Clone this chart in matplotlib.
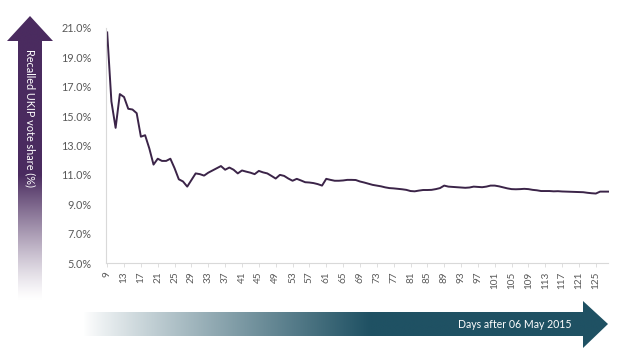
import matplotlib
matplotlib.use("Agg")
from matplotlib import pyplot as plt
from matplotlib.patches import Polygon
import numpy as np

plt.rcParams['font.family'] = ['Lato', 'DejaVu Sans']

# days after 06 May 2015
days = list(range(9, 129))
# recalled UKIP vote share (%)
share = [
    20.7, 16.0, 14.2, 16.5, 16.3, 15.5, 15.45, 15.2, 13.6, 13.7,   # 9-18
    12.8, 11.7, 12.1, 11.95, 11.95, 12.1, 11.45, 10.7, 10.55, 10.2,  # 19-28
    10.65, 11.1, 11.05, 10.95, 11.15, 11.3, 11.45, 11.6, 11.35, 11.5,  # 29-38
    11.35, 11.1, 11.3, 11.22, 11.15, 11.05, 11.27, 11.17, 11.1, 10.93,  # 39-48
    10.75, 11.0, 10.93, 10.75, 10.6, 10.73, 10.62, 10.5, 10.48, 10.44,  # 49-58
    10.37, 10.27, 10.73, 10.66, 10.6, 10.6, 10.62, 10.66, 10.66, 10.65,  # 59-68
    10.55, 10.48, 10.4, 10.32, 10.27, 10.22, 10.15, 10.1, 10.08, 10.05,  # 69-78
    10.02, 9.98, 9.9, 9.88, 9.93, 9.97, 9.97, 9.98, 10.03, 10.1,  # 79-88
    10.27, 10.2, 10.18, 10.16, 10.14, 10.12, 10.14, 10.2, 10.18, 10.16,  # 89-98
    10.2, 10.27, 10.27, 10.22, 10.15, 10.08, 10.03, 10.02, 10.03, 10.05,  # 99-108
    10.03, 9.98, 9.95, 9.9, 9.9, 9.9, 9.88, 9.89, 9.87, 9.86,  # 109-118
    9.85, 9.84, 9.83, 9.82, 9.78, 9.75, 9.73, 9.86, 9.86, 9.86,  # 119-128
]
y_ticks = [5, 7, 9, 11, 13, 15, 17, 19, 21]
x_ticks = list(range(9, 126, 4))

W, H = 624, 351
fig = plt.figure(figsize=(W / 100, H / 100), dpi=100)

# background layer in pixel coordinates for the two gradient arrows
bg = fig.add_axes([0, 0, 1, 1], zorder=0)
bg.set_xlim(0, W)
bg.set_ylim(H, 0)
bg.axis('off')

def gradient_arrow(verts, extent, color, ramp, horizontal):
  # ramp: array of alpha values along the gradient direction
  rgb = np.array(matplotlib.colors.to_rgb(color))
  white = np.ones(3)
  cols = white[None, :] * (1 - ramp[:, None]) + rgb[None, :] * ramp[:, None]
  if horizontal:
    img = cols[None, :, :]
  else:
    img = cols[:, None, :]
  im = bg.imshow(img, extent=extent, aspect='auto', interpolation='bilinear')
  poly = Polygon(verts, closed=True, facecolor='none', edgecolor='none')
  bg.add_patch(poly)
  im.set_clip_path(poly)

# vertical purple arrow (top dark, fading downward)
yy = np.linspace(15, 300, 300)
ramp_v = np.clip((300 - yy) / (300 - 175), 0, 1) ** 1.2
gradient_arrow([(18, 300), (18, 41), (7, 41), (30, 16), (53, 41), (42, 41), (42, 300)],
               (5, 55, 300, 15), '#4a2b5f', ramp_v, horizontal=False)

# horizontal teal arrow (left white, dark to the right)
xx = np.linspace(83, 610, 400)
ramp_h = np.clip((xx - 83) / (370 - 83), 0, 1) ** 0.9
gradient_arrow([(83, 312), (583, 312), (583, 301), (608, 324), (583, 348), (583, 336), (83, 336)],
               (83, 610, 350, 300), '#1f5163', ramp_h, horizontal=True)

bg.text(30, 49, 'Recalled UKIP vote share (%)', rotation=-90, color='white',
        fontsize=7.8, ha='center', va='top')
bg.text(572, 324, 'Days after 06 May 2015', color='white', fontsize=7.6,
        ha='right', va='center')

# main chart
ax = fig.add_axes([105.5 / W, 1 - 263 / H, (608.5 - 105.5) / W, (263 - 28) / H], zorder=1)
ax.patch.set_alpha(0)
ax.plot(days, share, color='#3b2448', lw=1.4, solid_joinstyle='round')
ax.set_xlim(8.6, 128)
ax.set_ylim(5, 21)
ax.set_yticks(y_ticks)
ax.set_yticklabels([f'{v:.1f}%' for v in y_ticks])
ax.set_xticks(x_ticks)
ax.set_xticklabels([str(d) for d in x_ticks], rotation=90)
for s in ['top', 'right']:
  ax.spines[s].set_visible(False)
ax.spines['left'].set_color('#d9d9d9')
ax.spines['bottom'].set_color('#d9d9d9')
ax.spines['left'].set_linewidth(0.8)
ax.spines['bottom'].set_linewidth(0.8)
ax.tick_params(axis='y', length=0, pad=10, labelsize=7.8, labelcolor='#595959')
ax.tick_params(axis='x', length=3, width=0.6, color='#d9d9d9', pad=3,
               labelsize=7.2, labelcolor='#595959')

fig.savefig('out.png', dpi=100)
